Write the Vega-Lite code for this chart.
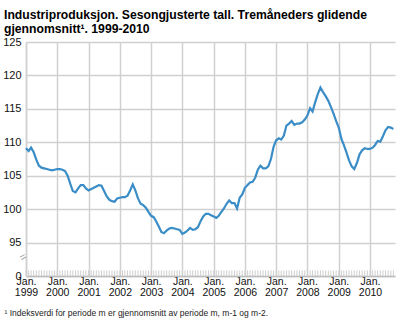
{
  "$schema": "https://vega.github.io/schema/vega-lite/v6.json",
  "autosize": "none",
  "width": 369,
  "height": 234,
  "padding": {"left": 26, "top": 42, "right": 5, "bottom": 44},
  "background": "white",
  "title": {
    "text": ["Industriproduksjon. Sesongjusterte tall. Tremåneders glidende", "gjennomsnitt¹. 1999-2010"],
    "anchor": "start",
    "frame": "group",
    "font": "Liberation Sans",
    "fontSize": 12.2,
    "fontWeight": "bold",
    "color": "#000000",
    "lineHeight": 14,
    "baseline": "alphabetic",
    "dx": -22,
    "dy": 22,
    "offset": 13
  },
  "config": {
    "view": {"stroke": null},
    "axis": {"labelFont": "Liberation Sans", "titleFont": "Liberation Sans"}
  },
  "data": {"values": [
    {"date": "1999-01-01", "value": 109.1}, {"date": "1999-02-01", "value": 108.7}, {"date": "1999-03-01", "value": 109.2}, {"date": "1999-04-01", "value": 108.5}, {"date": "1999-05-01", "value": 107.4}, {"date": "1999-06-01", "value": 106.5}, {"date": "1999-07-01", "value": 106.2}, {"date": "1999-08-01", "value": 106.1}, {"date": "1999-09-01", "value": 106.0}, {"date": "1999-10-01", "value": 105.9}, {"date": "1999-11-01", "value": 105.8}, {"date": "1999-12-01", "value": 105.9},
    {"date": "2000-01-01", "value": 106.0}, {"date": "2000-02-01", "value": 106.0}, {"date": "2000-03-01", "value": 105.9}, {"date": "2000-04-01", "value": 105.7}, {"date": "2000-05-01", "value": 105.0}, {"date": "2000-06-01", "value": 103.8}, {"date": "2000-07-01", "value": 102.7}, {"date": "2000-08-01", "value": 102.5}, {"date": "2000-09-01", "value": 103.1}, {"date": "2000-10-01", "value": 103.6}, {"date": "2000-11-01", "value": 103.6}, {"date": "2000-12-01", "value": 103.1},
    {"date": "2001-01-01", "value": 102.8}, {"date": "2001-02-01", "value": 103.0}, {"date": "2001-03-01", "value": 103.2}, {"date": "2001-04-01", "value": 103.4}, {"date": "2001-05-01", "value": 103.6}, {"date": "2001-06-01", "value": 103.5}, {"date": "2001-07-01", "value": 102.7}, {"date": "2001-08-01", "value": 101.9}, {"date": "2001-09-01", "value": 101.4}, {"date": "2001-10-01", "value": 101.2}, {"date": "2001-11-01", "value": 101.1}, {"date": "2001-12-01", "value": 101.6},
    {"date": "2002-01-01", "value": 101.7}, {"date": "2002-02-01", "value": 101.8}, {"date": "2002-03-01", "value": 101.8}, {"date": "2002-04-01", "value": 102.0}, {"date": "2002-05-01", "value": 102.8}, {"date": "2002-06-01", "value": 103.7}, {"date": "2002-07-01", "value": 102.8}, {"date": "2002-08-01", "value": 101.6}, {"date": "2002-09-01", "value": 100.8}, {"date": "2002-10-01", "value": 100.6}, {"date": "2002-11-01", "value": 100.2}, {"date": "2002-12-01", "value": 99.6},
    {"date": "2003-01-01", "value": 99.0}, {"date": "2003-02-01", "value": 98.8}, {"date": "2003-03-01", "value": 98.2}, {"date": "2003-04-01", "value": 97.4}, {"date": "2003-05-01", "value": 96.6}, {"date": "2003-06-01", "value": 96.4}, {"date": "2003-07-01", "value": 96.8}, {"date": "2003-08-01", "value": 97.1}, {"date": "2003-09-01", "value": 97.2}, {"date": "2003-10-01", "value": 97.1}, {"date": "2003-11-01", "value": 97.0}, {"date": "2003-12-01", "value": 96.9},
    {"date": "2004-01-01", "value": 96.3}, {"date": "2004-02-01", "value": 96.5}, {"date": "2004-03-01", "value": 96.8}, {"date": "2004-04-01", "value": 97.2}, {"date": "2004-05-01", "value": 96.9}, {"date": "2004-06-01", "value": 97.0}, {"date": "2004-07-01", "value": 97.3}, {"date": "2004-08-01", "value": 98.2}, {"date": "2004-09-01", "value": 98.9}, {"date": "2004-10-01", "value": 99.3}, {"date": "2004-11-01", "value": 99.3}, {"date": "2004-12-01", "value": 99.1},
    {"date": "2005-01-01", "value": 98.9}, {"date": "2005-02-01", "value": 98.7}, {"date": "2005-03-01", "value": 99.0}, {"date": "2005-04-01", "value": 99.6}, {"date": "2005-05-01", "value": 100.1}, {"date": "2005-06-01", "value": 100.8}, {"date": "2005-07-01", "value": 101.3}, {"date": "2005-08-01", "value": 100.9}, {"date": "2005-09-01", "value": 100.9}, {"date": "2005-10-01", "value": 100.1}, {"date": "2005-11-01", "value": 101.7}, {"date": "2005-12-01", "value": 102.2},
    {"date": "2006-01-01", "value": 103.2}, {"date": "2006-02-01", "value": 103.6}, {"date": "2006-03-01", "value": 104.0}, {"date": "2006-04-01", "value": 104.1}, {"date": "2006-05-01", "value": 104.7}, {"date": "2006-06-01", "value": 105.9}, {"date": "2006-07-01", "value": 106.5}, {"date": "2006-08-01", "value": 106.1}, {"date": "2006-09-01", "value": 106.1}, {"date": "2006-10-01", "value": 106.4}, {"date": "2006-11-01", "value": 107.5}, {"date": "2006-12-01", "value": 109.3},
    {"date": "2007-01-01", "value": 110.3}, {"date": "2007-02-01", "value": 110.6}, {"date": "2007-03-01", "value": 110.4}, {"date": "2007-04-01", "value": 111.0}, {"date": "2007-05-01", "value": 112.5}, {"date": "2007-06-01", "value": 112.8}, {"date": "2007-07-01", "value": 113.2}, {"date": "2007-08-01", "value": 112.6}, {"date": "2007-09-01", "value": 112.8}, {"date": "2007-10-01", "value": 112.8}, {"date": "2007-11-01", "value": 113.0}, {"date": "2007-12-01", "value": 113.4},
    {"date": "2008-01-01", "value": 114.0}, {"date": "2008-02-01", "value": 115.1}, {"date": "2008-03-01", "value": 114.6}, {"date": "2008-04-01", "value": 116.0}, {"date": "2008-05-01", "value": 117.2}, {"date": "2008-06-01", "value": 118.2}, {"date": "2008-07-01", "value": 117.5}, {"date": "2008-08-01", "value": 116.9}, {"date": "2008-09-01", "value": 116.2}, {"date": "2008-10-01", "value": 115.3}, {"date": "2008-11-01", "value": 114.3}, {"date": "2008-12-01", "value": 113.2},
    {"date": "2009-01-01", "value": 112.2}, {"date": "2009-02-01", "value": 110.5}, {"date": "2009-03-01", "value": 109.6}, {"date": "2009-04-01", "value": 108.5}, {"date": "2009-05-01", "value": 107.3}, {"date": "2009-06-01", "value": 106.4}, {"date": "2009-07-01", "value": 106.0}, {"date": "2009-08-01", "value": 106.9}, {"date": "2009-09-01", "value": 108.2}, {"date": "2009-10-01", "value": 108.8}, {"date": "2009-11-01", "value": 109.1}, {"date": "2009-12-01", "value": 109.0},
    {"date": "2010-01-01", "value": 109.0}, {"date": "2010-02-01", "value": 109.2}, {"date": "2010-03-01", "value": 109.6}, {"date": "2010-04-01", "value": 110.2}, {"date": "2010-05-01", "value": 110.1}, {"date": "2010-06-01", "value": 110.9}, {"date": "2010-07-01", "value": 111.8}, {"date": "2010-08-01", "value": 112.3}, {"date": "2010-09-01", "value": 112.2}, {"date": "2010-10-01", "value": 112.0}
  ]},
  "encoding": {
    "x": {
      "field": "date",
      "type": "temporal",
      "scale": {"domain": ["1999-01-01", "2010-10-20"], "nice": false},
      "axis": {
        "title": "¹ Indeksverdi for periode m er gjennomsnitt av periode m, m-1 og m-2.",
        "titleFont": "Liberation Sans",
        "titleFontSize": 8.5,
        "titleFontWeight": "normal",
        "titleColor": "#222222",
        "titleAnchor": "start",
        "titleAlign": "left",
        "titleBaseline": "alphabetic",
        "titleX": -22,
        "titleY": 39,
        "tickCount": {"interval": "year", "step": 1},
        "labelExpr": "['Jan.', timeFormat(datum.value, '%Y')]",
        "labelFontSize": 10.5,
        "labelColor": "#111111",
        "labelLineHeight": 11,
        "labelPadding": 8,
        "labelBaseline": "alphabetic",
        "labelOverlap": false,
        "labelFlush": false,
        "ticks": false,
        "grid": true,
        "gridColor": "#d0d0d0",
        "gridWidth": 1.5,
        "domainColor": "#bdbdbd",
        "domainWidth": 1.5
      }
    },
    "y": {
      "field": "value",
      "type": "quantitative",
      "scale": {"domain": [90, 125], "nice": false, "zero": false},
      "axis": {
        "title": null,
        "values": [90, 95, 100, 105, 110, 115, 120, 125],
        "labelExpr": "datum.value == 90 ? '0' : datum.label",
        "labelFontSize": 11,
        "labelColor": "#111111",
        "labelPadding": 5,
        "labelOverlap": false,
        "labelBaseline": "middle",
        "ticks": false,
        "grid": true,
        "gridColor": "#d0d0d0",
        "gridWidth": 1.5,
        "domain": true,
        "domainColor": "#d0d0d0",
        "domainWidth": 1.5
      }
    }
  },
  "layer": [
    {
      "mark": {"type": "line", "color": "#3a8dc6", "strokeWidth": 2.2, "interpolate": "linear"}
    },
    {
      "mark": {"type": "rule", "color": "#cfcfcf", "strokeWidth": 1},
      "encoding": {
        "y": {"datum": 90, "type": "quantitative"},
        "y2": {"datum": 90.85}
      }
    },
    {
      "data": {"values": [{"date": "1999-01-01", "value": 93.0, "label": "="}]},
      "mark": {"type": "text", "angle": -30, "fontSize": 11, "color": "#9a9a9a", "font": "Liberation Sans", "dx": -3},
      "encoding": {
        "text": {"field": "label"}
      }
    }
  ]
}
